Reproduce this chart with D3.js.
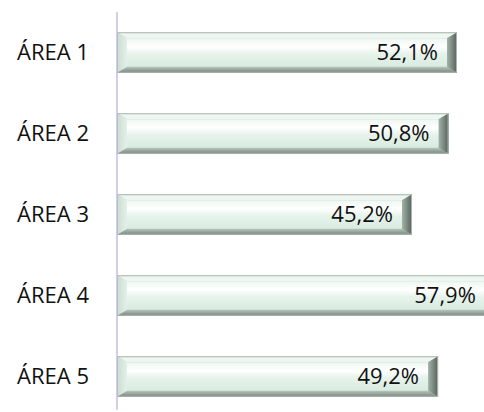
<!DOCTYPE html>
<html>
<head>
<meta charset="utf-8">
<script src="https://cdn.jsdelivr.net/npm/d3@7"></script>
<style>
  html, body { margin: 0; padding: 0; background: #fff; }
  svg { display: block; }
</style>
</head>
<body>
<svg id="chart"></svg>
<script>
const areas = ["ÁREA 1", "ÁREA 2", "ÁREA 3", "ÁREA 4", "ÁREA 5"];
const percents = [52.1, 50.8, 45.2, 57.9, 49.2];

const width = 484, height = 412;
const margin = { top: 12, left: 117 };

const svg = d3.select("#chart")
  .attr("width", width)
  .attr("height", height);

const x = d3.scaleLinear()
  .domain([0, 52.1])
  .range([margin.left, 457]);

const y = d3.scaleBand()
  .domain(areas)
  .range([margin.top, 417])
  .paddingInner(0.5)
  .paddingOuter(0.25);

const defs = svg.append("defs");
function grad(id, vertical, stops) {
  const g = defs.append("linearGradient").attr("id", id)
    .attr("x1", 0).attr("y1", 0)
    .attr("x2", vertical ? 0 : 1).attr("y2", vertical ? 1 : 0);
  stops.forEach(s => g.append("stop").attr("offset", s[0]).attr("stop-color", s[1]));
}
grad("face", true, [["0%", "#eef7f1"], ["30%", "#ffffff"], ["55%", "#e6f3eb"], ["100%", "#d9ebe0"]]);
grad("leftbev", false, [["0%", "#c9ddd0"], ["100%", "#e3f1e8"]]);
grad("bottombev", true, [["0%", "#b9c7be"], ["100%", "#76827b"]]);
grad("rightbev", false, [["0%", "#a3b3a9"], ["100%", "#56615b"]]);

const bev = 10;

const bars = svg.selectAll(".bar")
  .data(areas.map((a, i) => ({ area: a, value: percents[i] })))
  .enter().append("g")
  .attr("class", "bar");

bars.each(function (d) {
  const g = d3.select(this);
  const x0 = x(0), x1 = x(d.value);
  const y0 = y(d.area), y1 = y0 + y.bandwidth();
  const tb = 6; // top and bottom bevel depth

  g.append("rect")
    .attr("x", x0).attr("y", y0)
    .attr("width", x1 - x0).attr("height", y1 - y0)
    .attr("fill", "#b8c5bd");
  g.append("polygon")
    .attr("points", [[x0, y0], [x1, y0], [x1 - bev, y0 + tb], [x0 + bev, y0 + tb]].join(" "))
    .attr("fill", "#eef6f1");
  g.append("polygon")
    .attr("points", [[x0, y1], [x1, y1], [x1 - bev, y1 - tb], [x0 + bev, y1 - tb]].join(" "))
    .attr("fill", "url(#bottombev)");
  g.append("polygon")
    .attr("points", [[x0, y0], [x0 + bev, y0 + tb], [x0 + bev, y1 - tb], [x0, y1]].join(" "))
    .attr("fill", "url(#leftbev)");
  g.append("polygon")
    .attr("points", [[x1, y0], [x1 - bev, y0 + tb], [x1 - bev, y1 - tb], [x1, y1]].join(" "))
    .attr("fill", "url(#rightbev)");
  g.append("rect")
    .attr("x", x0 + bev).attr("y", y0 + tb)
    .attr("width", x1 - x0 - 2 * bev).attr("height", y1 - y0 - 2 * tb)
    .attr("fill", "url(#face)");
  g.append("rect")
    .attr("x", x0 + 0.5).attr("y", y0 + 0.5)
    .attr("width", x1 - x0 - 1).attr("height", y1 - y0 - 1)
    .attr("fill", "none")
    .attr("stroke", "#a9b7ae")
    .attr("stroke-width", 1);

  g.append("text")
    .attr("x", x1 - 19)
    .attr("y", (y0 + y1) / 2)
    .attr("dy", "0.36em")
    .attr("text-anchor", "end")
    .attr("font-family", "'Open Sans', 'Noto Sans', sans-serif")
    .attr("font-size", 22)
    .attr("fill", "#111")
    .text(d3.format(".1f")(d.value).replace(".", ",") + "%");
});

// category axis
const axis = svg.append("g")
  .attr("transform", `translate(${margin.left},0)`)
  .call(d3.axisLeft(y).tickSize(0).tickPadding(28));
axis.select(".domain")
  .attr("d", `M0,${margin.top}V410`)
  .attr("stroke", "#c4bde0")
  .attr("stroke-width", 1.5);
axis.selectAll("text")
  .attr("font-family", "'Open Sans', 'Noto Sans', sans-serif")
  .attr("font-size", 22)
  .attr("fill", "#111");
</script>
</body>
</html>
